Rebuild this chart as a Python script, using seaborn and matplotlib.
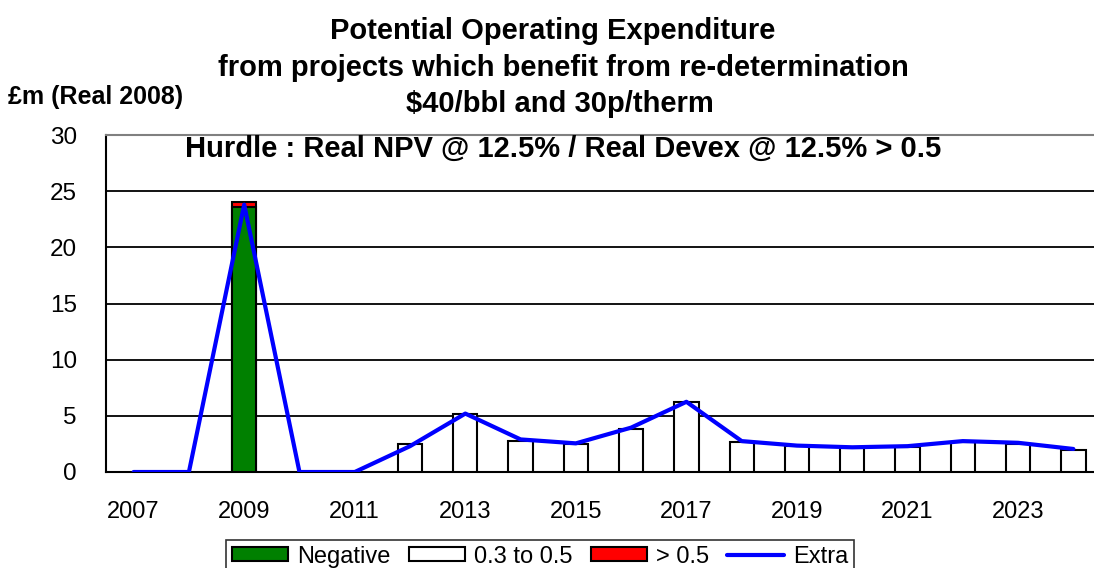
import numpy as np
import pandas as pd
import matplotlib
matplotlib.use("Agg")
import matplotlib.pyplot as plt
import seaborn as sns
from matplotlib.patches import Patch
from matplotlib.lines import Line2D

# Chart data
years = [str(y) for y in range(2007, 2025)]
negative = [0, 0, 23.6, 0, 0, 0, 0, 0, 0, 0, 0, 0, 0, 0, 0, 0, 0, 0]
above_05 = [0, 0, 0.4, 0, 0, 0, 0, 0, 0, 0, 0, 0, 0, 0, 0, 0, 0, 0]
mid_03_05 = [0, 0, 0, 0, 0, 2.45, 5.15, 2.8, 2.45, 3.85, 6.2, 2.65, 2.3, 2.15, 2.25, 2.65, 2.5, 1.95]
extra = [0, 0, 23.8, 0, 0, 2.3, 5.2, 2.9, 2.55, 3.95, 6.25, 2.75, 2.35, 2.2, 2.3, 2.75, 2.6, 2.05]
tick_years = ["2007", "2009", "2011", "2013", "2015", "2017", "2019", "2021", "2023"]

df = pd.DataFrame({"year": years, "negative": negative, "above": above_05,
                   "mid": mid_03_05, "extra": extra})
df["neg_total"] = df["negative"] + df["above"]

sns.set_theme(style="white")
plt.rcParams["font.family"] = ["Liberation Sans", "DejaVu Sans"]
plt.rcParams["text.color"] = "black"
plt.rcParams["xtick.color"] = "black"
plt.rcParams["ytick.color"] = "black"
plt.rcParams["axes.labelcolor"] = "black"

GREEN = "#008000"
RED = "#FF0000"
BLUE = "#0000FF"

fig = plt.figure(figsize=(10.94, 5.68), dpi=100)
ax = fig.add_axes([106 / 1094, 96 / 568, 995 / 1094, 337 / 568])

bar_w = 0.44
bar_kw = dict(order=years, width=bar_w, saturation=1, edgecolor="black", linewidth=1.5, ax=ax)

mid_df = df[df["mid"] > 0]
sns.barplot(data=mid_df, x="year", y="mid", color="white", zorder=3, **bar_kw)

# red part drawn as the full stack, green drawn over it
neg_df = df[df["neg_total"] > 0]
sns.barplot(data=neg_df, x="year", y="neg_total", color=RED, zorder=3, **bar_kw)
sns.barplot(data=neg_df, x="year", y="negative", color=GREEN, zorder=4, **bar_kw)

pos = np.arange(len(years))
sns.lineplot(x=pos, y=df["extra"].values, color=BLUE, linewidth=3, zorder=5, ax=ax)

ax.set_xlim(-0.5, len(years) - 0.5)
ax.set_ylim(0, 30)
ax.set_yticks(range(0, 31, 5))
ax.set_yticklabels([str(v) for v in range(0, 31, 5)], fontsize=17.5)
ax.set_xticks([years.index(t) for t in tick_years])
ax.set_xticklabels(tick_years, fontsize=17)
ax.set_xticks(np.arange(-0.5, len(years)), minor=True)
ax.tick_params(axis="x", which="major", length=0, pad=21)
ax.tick_params(axis="x", which="minor", length=8, width=1.5, color="black", direction="out")
ax.tick_params(axis="y", which="major", length=9, width=1.5, color="black", direction="out", pad=12)
ax.set_xlabel("")
ax.set_ylabel("")

for v in range(5, 30, 5):
    ax.axhline(v, color="black", linewidth=1.3, zorder=1)

ax.spines["left"].set_color("black")
ax.spines["left"].set_linewidth(1.5)
ax.spines["bottom"].set_color("black")
ax.spines["bottom"].set_linewidth(1.5)
ax.spines["top"].set_color("#808080")
ax.spines["top"].set_linewidth(1.5)
ax.spines["right"].set_visible(False)

# titles
title_kw = dict(ha="center", va="center", fontsize=21, fontweight="bold")
fig.text(553 / 1094, 1 - 31 / 568, "Potential Operating Expenditure", **title_kw)
fig.text(563 / 1094, 1 - 68 / 568, "from projects which benefit from re-determination", **title_kw)
fig.text(560 / 1094, 1 - 104 / 568, "$40/bbl and 30p/therm", **title_kw)
fig.text(563 / 1094, 1 - 149 / 568, "Hurdle : Real NPV @ 12.5% / Real Devex @ 12.5% > 0.5", **title_kw)
fig.text(8 / 1094, 1 - 97 / 568, "£m (Real 2008)", ha="left", va="center", fontsize=18, fontweight="bold")

handles = [
    Patch(facecolor=GREEN, edgecolor="black", linewidth=1.5, label="Negative"),
    Patch(facecolor="white", edgecolor="black", linewidth=1.5, label="0.3 to 0.5"),
    Patch(facecolor=RED, edgecolor="black", linewidth=1.5, label="> 0.5"),
    Line2D([0], [0], color=BLUE, linewidth=3, label="Extra"),
]
leg = fig.legend(handles=handles, loc="upper center", bbox_to_anchor=(540 / 1094, 1 - 528 / 568),
                 ncol=4, fontsize=17, frameon=True, fancybox=False, handlelength=2.4,
                 handleheight=0.55, handletextpad=0.39, columnspacing=0.75, borderpad=0.25)
leg.get_frame().set_edgecolor("black")
leg.get_frame().set_linewidth(1.2)

fig.savefig("out.png", dpi=100)
